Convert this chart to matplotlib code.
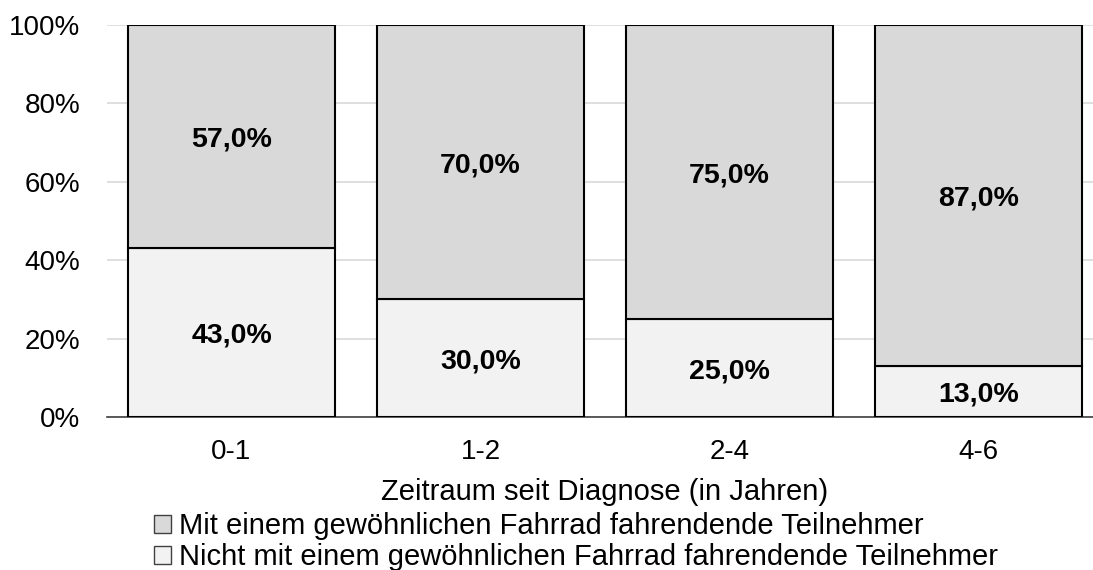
import matplotlib.pyplot as plt
from matplotlib.patches import Patch

plt.rcParams['font.family'] = ['Liberation Sans', 'DejaVu Sans']

# Daten
kategorien = ['0-1', '1-2', '2-4', '4-6']
nicht_fahrend = [43.0, 30.0, 25.0, 13.0]
mit_fahrend = [57.0, 70.0, 75.0, 87.0]
y_ticks = [0, 20, 40, 60, 80, 100]
legende = ['Mit einem gewöhnlichen Fahrrad fahrendende Teilnehmer',
           'Nicht mit einem gewöhnlichen Fahrrad fahrendende Teilnehmer']

farbe_mit = '#d9d9d9'
farbe_nicht = '#f2f2f2'

fig = plt.figure(figsize=(10.93, 5.70), dpi=100)
ax = fig.add_axes([107 / 1093, 153 / 570, 996 / 1093, 392 / 570])

x = range(len(kategorien))
ax.bar(x, nicht_fahrend, width=0.83, color=farbe_nicht, edgecolor='black', linewidth=1.5, zorder=3)
ax.bar(x, mit_fahrend, width=0.83, bottom=nicht_fahrend, color=farbe_mit, edgecolor='black', linewidth=1.5, zorder=3)

# Beschriftung: Versalhöhe mittig auf dem Segment
def beschriften(xpos, ypos, wert):
    ax.annotate(f'{wert:.1f}%'.replace('.', ','), (xpos, ypos), xytext=(0, -0.716 * 20.5 / 2),
                textcoords='offset points', ha='center', va='baseline',
                fontsize=20.5, fontweight='bold', zorder=4)

for i in x:
    beschriften(i, nicht_fahrend[i] / 2, nicht_fahrend[i])
    beschriften(i, nicht_fahrend[i] + mit_fahrend[i] / 2, mit_fahrend[i])

ax.set_xlim(-0.5, len(kategorien) - 0.5)
ax.set_ylim(0, 100)
ax.set_yticks(y_ticks)
ax.set_yticklabels([f'{t}%' for t in y_ticks])
ax.set_xticks(list(x))
ax.set_xticklabels(kategorien)
ax.tick_params(axis='both', length=0, labelsize=20)
ax.tick_params(axis='y', pad=19)
ax.tick_params(axis='x', pad=16)
ax.grid(axis='y', color='#d9d9d9', linewidth=1.2, zorder=0)
for s in ['top', 'right', 'left']:
    ax.spines[s].set_visible(False)
ax.spines['bottom'].set_color('#404040')
ax.spines['bottom'].set_linewidth(1.2)

fig.text(605 / 1093, 1 - 492 / 570, 'Zeitraum seit Diagnose (in Jahren)', ha='center', va='center', fontsize=21)

handles = [Patch(facecolor=farbe_mit, edgecolor='#404040', label=legende[0]),
           Patch(facecolor=farbe_nicht, edgecolor='#404040', label=legende[1])]
fig.legend(handles=handles, loc='upper left', bbox_to_anchor=(154 / 1093, 1 - 512 / 570),
           frameon=False, fontsize=21, handlelength=0.58, handleheight=0.58, handletextpad=0.28,
           labelspacing=0.1, borderpad=0, borderaxespad=0)

fig.savefig('out.png', dpi=100)
